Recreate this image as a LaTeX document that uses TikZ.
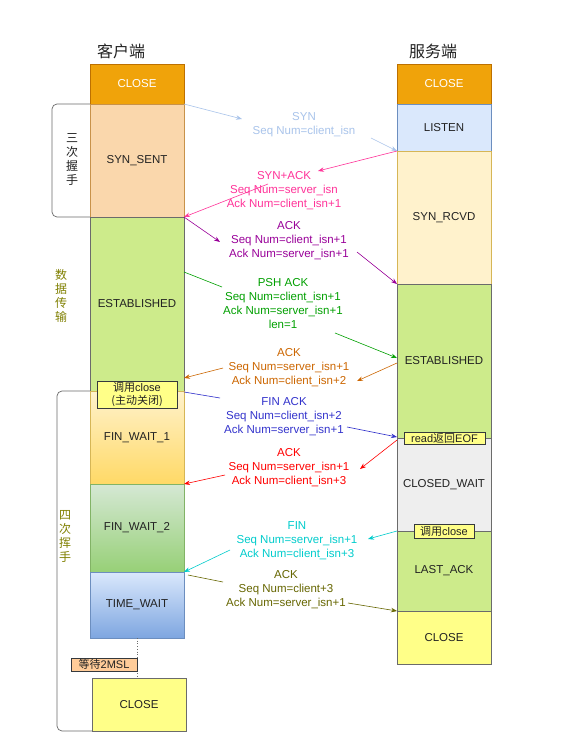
\documentclass[tikz,border=0pt]{standalone}
\usepackage{fontspec}
\setmainfont{Liberation Sans}
\newfontfamily\cjk{Noto Sans CJK SC}
\usetikzlibrary{arrows.meta}
\definecolor{corange}{HTML}{F0A30A}
\definecolor{borange}{HTML}{BD7000}
\definecolor{cpeach}{HTML}{FAD7AC}
\definecolor{bpeach}{HTML}{C8924A}
\definecolor{cgreen}{HTML}{CDEB8B}
\definecolor{bgrey}{HTML}{6B6B6B}
\definecolor{cblue}{HTML}{DAE8FC}
\definecolor{bblue}{HTML}{6C8EBF}
\definecolor{cyel}{HTML}{FFF2CC}
\definecolor{byel}{HTML}{D6B656}
\definecolor{cyeld}{HTML}{FFD966}
\definecolor{cgrl}{HTML}{D5E8D4}
\definecolor{cgrd}{HTML}{97D077}
\definecolor{bgr}{HTML}{82B366}
\definecolor{cbld}{HTML}{7EA6E0}
\definecolor{cgray}{HTML}{EEEEEE}
\definecolor{ylw}{HTML}{FFFF88}
\definecolor{tagb}{HTML}{36393D}
\definecolor{cmsl}{HTML}{FFCC99}
\definecolor{txt}{HTML}{222222}
\definecolor{olivec}{HTML}{808000}
\definecolor{csyn}{HTML}{A9C4EB}
\definecolor{csynack}{HTML}{FF3399}
\definecolor{cack1}{HTML}{990099}
\definecolor{cpsh}{HTML}{00A000}
\definecolor{cack2}{HTML}{CC6600}
\definecolor{cfinack}{HTML}{3333CC}
\definecolor{cack3}{HTML}{FF0000}
\definecolor{cfin}{HTML}{00CCCC}
\definecolor{cack4}{HTML}{666600}
\tikzset{
  st/.style={draw, line width=0.6pt, inner sep=0pt, outer sep=0pt, anchor=north west,
    font=\fontsize{11.5}{14}\selectfont, text=txt, minimum width=94pt},
  msg/.style={align=center, font=\fontsize{11.5}{14}\selectfont, inner sep=0pt},
  tag/.style={draw=tagb, fill=ylw, line width=0.6pt, inner sep=0pt, outer sep=0pt,
    anchor=north west, font=\fontsize{11}{12.5}\selectfont, text=txt, align=center},
  arr/.style={-{Stealth[length=6pt,width=4.5pt]}, line width=0.6pt},
  lin/.style={line width=0.6pt},
  grp/.style={draw=bgrey, line width=0.7pt, rounded corners=5pt},
  vt/.style={align=center, font=\cjk\fontsize{12}{14}\selectfont, inner sep=0pt},
  hd/.style={font=\cjk\fontsize{16}{16}\selectfont, text=txt, inner sep=0pt}
}
\begin{document}
\begin{tikzpicture}[x=1pt,y=-1pt]
\useasboundingbox (0,0) rectangle (584,754);
\fill[white] (0,0) rectangle (584,754);
% headers
\node[hd] (h1) at (121,51) {客户端};
\node[hd] (h2) at (433,51) {服务端};
% group brackets
\draw[grp] (90,104) -- (52,104) -- (52,217) -- (90,217);
\draw[grp] (90,391) -- (57,391) -- (57,731) -- (92,731);
% client states
\node[st, fill=corange, draw=borange, text=white, minimum height=40pt] (c1) at (90,64) {CLOSE};
\node[st, fill=cpeach, draw=bpeach, minimum height=113pt] (c2) at (90,104) {SYN\_SENT};
\node[st, fill=cgreen, draw=bgrey, minimum height=174pt] (c3) at (90,217) {ESTABLISHED};
\node[st, top color=cyel, bottom color=cyeld, draw=byel, minimum height=93pt] (c4) at (90,391) {FIN\_WAIT\_1};
\node[st, top color=cgrl, bottom color=cgrd, draw=bgr, minimum height=88pt] (c5) at (90,484) {FIN\_WAIT\_2};
\node[st, top color=cblue, bottom color=cbld, draw=bblue, minimum height=66pt] (c6) at (90,572) {TIME\_WAIT};
\node[st, fill=ylw, draw=bgrey, minimum height=53pt] (c7) at (92,678) {CLOSE};
% server states
\node[st, fill=corange, draw=borange, text=white, minimum height=40pt] (s1) at (397,64) {CLOSE};
\node[st, fill=cblue, draw=bblue, minimum height=47pt] (s2) at (397,104) {LISTEN};
\node[st, fill=cyel, draw=byel, minimum height=133pt] (s3) at (397,151) {SYN\_RCVD};
\node[st, fill=cgreen, draw=bgrey, minimum height=154pt] (s4) at (397,284) {ESTABLISHED};
\node[st, fill=cgray, draw=bgrey, minimum height=93pt] (s5) at (397,438) {CLOSED\_WAIT};
\node[st, fill=cgreen, draw=bgrey, minimum height=80pt] (s6) at (397,531) {LAST\_ACK};
\node[st, fill=ylw, draw=bgrey, minimum height=53pt] (s7) at (397,611) {CLOSE};
% dotted wait line
\draw[dotted, bgrey, line width=0.7pt] (c6.south) -- (c6.south |- c7.north);
% tags
\node[tag, minimum width=80pt, minimum height=27pt] (ta) at (97,381) {{\cjk 调用}close\\{\cjk (主动关闭)}};
\node[tag, minimum width=81pt, minimum height=12pt] (tb) at (404,432) {read{\cjk 返回}EOF};
\node[tag, minimum width=60pt, minimum height=14pt] (tc) at (414,524) {{\cjk 调用}close};
\node[tag, fill=cmsl, minimum width=66pt, minimum height=13pt] (td) at (71,658) {{\cjk 等待}2MSL};
% side labels
\node[vt, text=txt] (v1) at (72,160) {三\\次\\握\\手};
\node[vt, text=olivec] (v2) at (61,296) {数\\据\\传\\输};
\node[vt, text=olivec] (v3) at (65,536) {四\\次\\挥\\手};
% messages
\node[msg, text=csyn] (m1) at (304,124.5) {SYN\\Seq Num=client\_isn};
\coordinate (m1a) at (242,119); \coordinate (m1b) at (371,138);
\draw[arr, csyn] (c2.north east) -- (m1a);
\draw[arr, csyn] (m1b) -- (s3.north west);

\node[msg, text=csynack] (m2) at (284,191) {SYN+ACK\\Seq Num=server\_isn\\Ack Num=client\_isn+1};
\coordinate (m2a) at (318,171); \coordinate (m2b) at (268,184);
\draw[arr, csynack] (s3.north west) -- (m2a);
\draw[arr, csynack] (m2b) -- (c3.north east);

\node[msg, text=cack1] (m3) at (289,241) {ACK\\Seq Num=client\_isn+1\\Ack Num=server\_isn+1};
\coordinate (m3a) at (220,242); \coordinate (m3b) at (357,252);
\draw[arr, cack1] (c3.north east) -- (m3a);
\draw[arr, cack1] (m3b) -- (s4.north west);

\node[msg, text=cpsh] (m4) at (283,304) {PSH ACK\\Seq Num=client\_isn+1\\Ack Num=server\_isn+1\\len=1};
\coordinate (m4s) at (184,272); \coordinate (m4a) at (222,287);
\coordinate (m4b) at (335,333); \coordinate (m4e) at (397,358);
\draw[lin, cpsh] (m4s) -- (m4a);
\draw[arr, cpsh] (m4b) -- (m4e);

\node[msg, text=cack2] (m5) at (289,367.5) {ACK\\Seq Num=server\_isn+1\\Ack Num=client\_isn+2};
\coordinate (m5s) at (397,363); \coordinate (m5a) at (357,381);
\coordinate (m5b) at (223,368); \coordinate (m5e) at (184,378);
\draw[arr, cack2] (m5s) -- (m5a);
\draw[arr, cack2] (m5b) -- (m5e);

\node[msg, text=cfinack] (m6) at (284,417) {FIN ACK\\Seq Num=client\_isn+2\\Ack Num=server\_isn+1};
\coordinate (m6s) at (184,392); \coordinate (m6a) at (220,398);
\coordinate (m6b) at (347,427); \coordinate (m6e) at (397,437);
\draw[lin, cfinack] (m6s) -- (m6a);
\draw[arr, cfinack] (m6b) -- (m6e);

\node[msg, text=cack3] (m7) at (289,468) {ACK\\Seq Num=server\_isn+1\\Ack Num=client\_isn+3};
\coordinate (m7s) at (397,440); \coordinate (m7a) at (360,469);
\coordinate (m7b) at (225,475);
\draw[arr, cack3] (m7s) -- (m7a);
\draw[arr, cack3] (m7b) -- (c4.south east);

\node[msg, text=cfin] (m8) at (297,541) {FIN\\Seq Num=server\_isn+1\\Ack Num=client\_isn+3};
\coordinate (m8a) at (368,539); \coordinate (m8b) at (230,550);
\draw[arr, cfin] (s6.north west) -- (m8a);
\draw[arr, cfin] (m8b) -- (c5.south east);

\node[msg, text=cack4] (m9) at (286,590) {ACK\\Seq Num=client+3\\Ack Num=server\_isn+1};
\coordinate (m9s) at (188,575); \coordinate (m9a) at (223,582);
\coordinate (m9b) at (348,603);
\draw[lin, cack4] (m9s) -- (m9a);
\draw[arr, cack4] (m9b) -- (s7.north west);
\end{tikzpicture}
\end{document}
